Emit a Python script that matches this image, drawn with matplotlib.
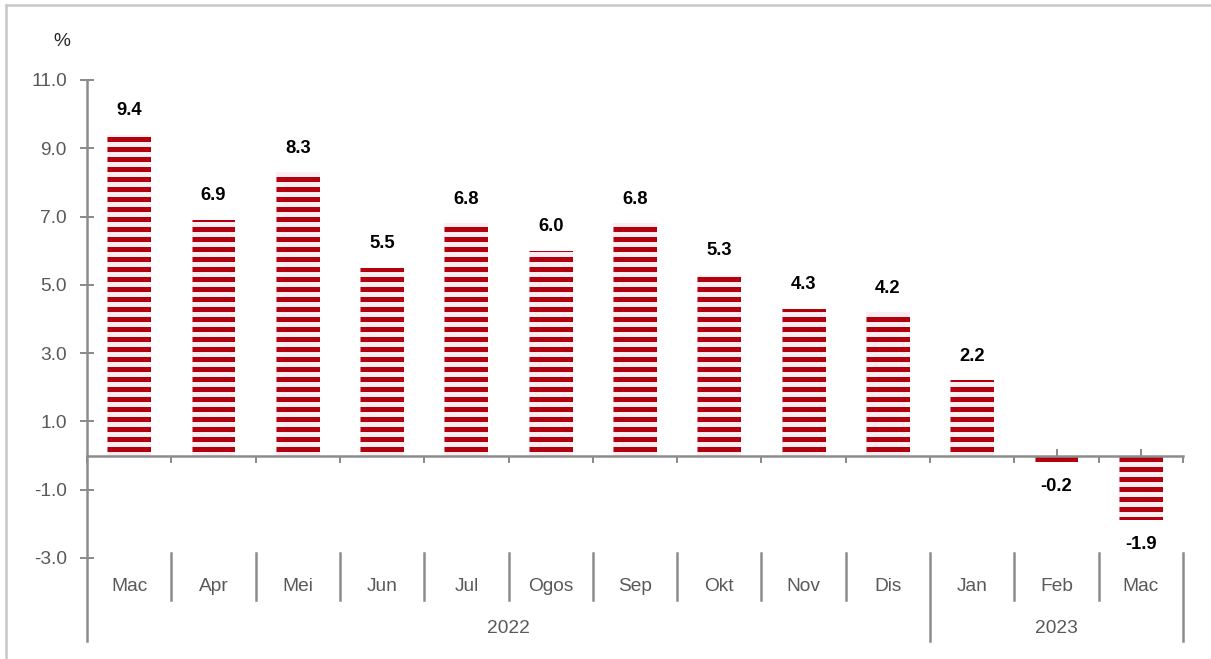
import matplotlib
matplotlib.use("Agg")
import numpy as np
import matplotlib.pyplot as plt
from matplotlib.lines import Line2D
from matplotlib.ticker import FixedLocator

months = ["Mac", "Apr", "Mei", "Jun", "Jul", "Ogos", "Sep", "Okt", "Nov", "Dis", "Jan", "Feb", "Mac"]
values = [9.4, 6.9, 8.3, 5.5, 6.8, 6.0, 6.8, 5.3, 4.3, 4.2, 2.2, -0.2, -1.9]
years = ["2022", "2023"]
year_spans = [(0, 9), (10, 12)]
yticks = [-3.0, -1.0, 1.0, 3.0, 5.0, 7.0, 9.0, 11.0]

DPI = 120
BAR_RED = "#B3000F"
AXIS_GREY = "#8C8C8C"
TEXT_GREY = "#595959"

plt.rcParams.update({"font.family": ["Liberation Sans", "DejaVu Sans"]})

fig = plt.figure(figsize=(1211 / DPI, 659 / DPI), dpi=DPI)
ax = fig.add_axes([87 / 1211, 1 - 558 / 659, (1183 - 87) / 1211, (558 - 80) / 659])
ax.set_xlim(-0.5, len(months) - 0.5)
ax.set_ylim(-3, 11)

x = list(range(len(months)))
bars = ax.bar(x, values, width=0.52, facecolor="#FCEEF0", edgecolor="none", zorder=2)

# striped fill: horizontal red bands clipped to each bar (about 10 px pitch)
pitch = (11 - (-3)) / 478 * 10
stripe_y = np.arange(-3 - 0.088, 11, pitch) + (0 - 0.088) % pitch - (-3 - 0.088) % pitch
for b in bars:
    lc = ax.hlines(stripe_y, b.get_x(), b.get_x() + b.get_width(), colors=BAR_RED,
                   linewidth=3.0, zorder=3)
    lc.set_clip_path(b)

# data labels
for xi, v in zip(x, values):
    off = 14.5 if v >= 0 else -14.5
    ax.annotate(f"{v:.1f}", (xi, v), xytext=(0, off), textcoords="offset points",
                ha="center", va="center", fontsize=11, fontweight="bold", color="black")

# spines
for s in ["top", "right", "left"]:
    ax.spines[s].set_visible(False)
ax.spines["bottom"].set_position(("data", 0))
ax.spines["bottom"].set_color(AXIS_GREY)
ax.spines["bottom"].set_linewidth(1.5)
ax.spines["bottom"].set_zorder(4)

# y axis
ax.yaxis.set_major_locator(FixedLocator(yticks))
ax.set_yticklabels([f"{t:.1f}" for t in yticks])
ax.tick_params(axis="y", direction="inout", length=8, width=1.2, color=AXIS_GREY,
               labelsize=11.5, labelcolor=TEXT_GREY, pad=8)

# x axis ticks at zero line: boundaries down, centers up
bounds = [i - 0.5 for i in range(len(months) + 1)]
ax.xaxis.set_major_locator(FixedLocator(bounds))
ax.xaxis.set_minor_locator(FixedLocator(x))
ax.tick_params(axis="x", which="major", direction="out", length=4, width=1.2,
               color=AXIS_GREY, labelbottom=False)
ax.tick_params(axis="x", which="minor", direction="in", length=4, width=1.2,
               color=AXIS_GREY)

trans = ax.get_xaxis_transform()
# left axis line extended down through category area
ax.add_line(Line2D([-0.5, -0.5], [1.0, -0.174], transform=trans, color=AXIS_GREY,
                   lw=1.5, clip_on=False, zorder=4))

# category separators and labels
year_edges = {year_spans[0][0] - 0.5}
for s, e in year_spans:
    year_edges.add(e + 0.5)
for b in bounds[1:]:
    bottom = -0.174 if b in year_edges else -0.088
    ax.add_line(Line2D([b, b], [0.0105, bottom], transform=trans, color=AXIS_GREY,
                       lw=1.5, clip_on=False))
for xi, m in zip(x, months):
    ax.text(xi, -0.0586, m, transform=trans, ha="center", va="center",
            fontsize=11.5, color=TEXT_GREY)
for (s, e), yr in zip(year_spans, years):
    ax.text((s + e) / 2, -0.148, yr, transform=trans, ha="center", va="center",
            fontsize=11.5, color=TEXT_GREY)

ax.text(-0.0228, 1.0795, "%", transform=ax.transAxes, ha="center", va="center",
        fontsize=11.5, color="#262626")

# frame lines on top and left of figure
fig.add_artist(Line2D([6 / 1211, 6 / 1211], [0, 1 - 5 / 659], transform=fig.transFigure,
                      color="#C8C8C8", lw=1.5))
fig.add_artist(Line2D([6 / 1211, 1], [1 - 5 / 659, 1 - 5 / 659], transform=fig.transFigure,
                      color="#C8C8C8", lw=1.5))

fig.savefig("out.png", dpi=DPI)
